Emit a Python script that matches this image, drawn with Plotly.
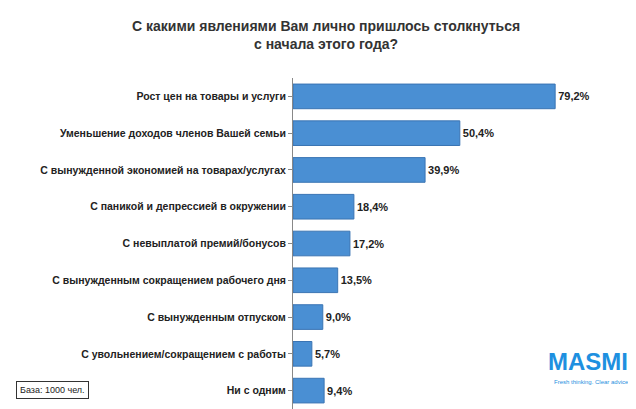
import plotly.graph_objects as go

categories = ["Рост цен на товары и услуги", "Уменьшение доходов членов Вашей семьи",
              "С вынужденной экономией на товарах/услугах", "С паникой и депрессией в окружении",
              "С невыплатой премий/бонусов", "С вынужденным сокращением рабочего дня",
              "С вынужденным отпуском", "С увольнением/сокращением с работы", "Ни с одним"]
values = [79.2, 50.4, 39.9, 18.4, 17.2, 13.5, 9.0, 5.7, 9.4]
labels = ["<b>" + f"{v:.1f}%".replace(".", ",") + "</b>" for v in values]

fig = go.Figure(go.Bar(
    y=categories, x=values, orientation="h", text=labels, textposition="outside",
    textfont=dict(size=11, color="#222", family="Liberation Sans"),
    marker=dict(color="#4a8fd3", line=dict(color="#3a74b3", width=1)),
    cliponaxis=False))
fig.update_layout(
    width=636, height=409, margin=dict(l=285, r=20, t=70, b=8),
    paper_bgcolor="white", plot_bgcolor="white", bargap=0.33, showlegend=False,
    font=dict(family="Liberation Sans", color="#222"),
    xaxis=dict(range=[0, 100], visible=False, automargin=False),
    yaxis=dict(autorange="reversed", showline=True, linecolor="#888", ticks="outside",
               ticklen=4, tickcolor="#888", automargin=False,
               tickvals=categories, ticktext=["<b>" + c + "</b>" for c in categories],
               tickfont=dict(size=10.5, color="#222", family="Liberation Sans")),
    annotations=[
        dict(text="<b>С какими явлениями Вам лично пришлось столкнуться<br>с начала этого года?</b>",
             x=0, y=1, xref="paper", yref="paper", xanchor="center", yanchor="top",
             xshift=33, yshift=62, showarrow=False, font=dict(size=14, color="#333")),
        dict(text="База: 1000 чел.", xref="paper", yref="paper", x=0, y=0,
             xanchor="left", yanchor="bottom", xshift=-277, yshift=10, showarrow=False,
             font=dict(size=9, color="#222"), bordercolor="#333", borderwidth=1, borderpad=3,
             bgcolor="white"),
        dict(text="<b>MASMI</b>", xref="paper", yref="paper", x=1, y=0, xanchor="right",
             yanchor="bottom", xshift=6, yshift=32, showarrow=False,
             font=dict(size=24, color="#1e90e0")),
        dict(text="Fresh thinking. Clear advice.", xref="paper", yref="paper", x=1, y=0,
             xanchor="right", yanchor="bottom", xshift=8, yshift=22, showarrow=False,
             font=dict(size=6, color="#1e90e0")),
    ])
fig.write_html("out.html")
